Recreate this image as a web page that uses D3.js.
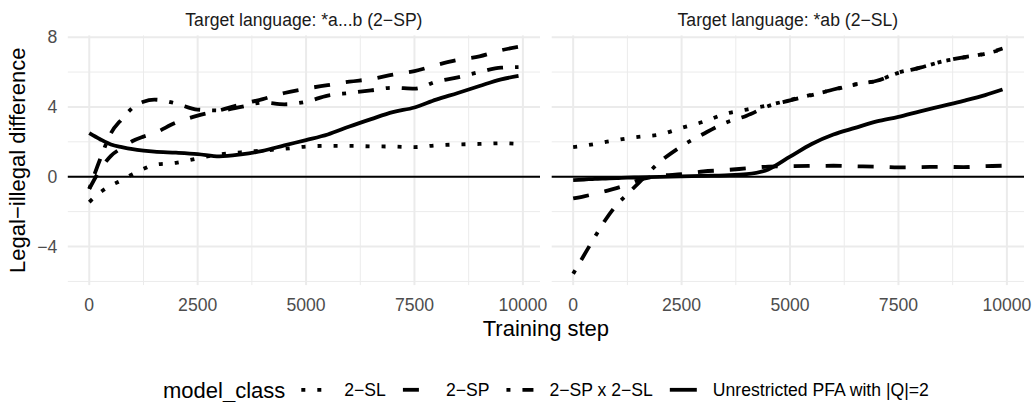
<!DOCTYPE html>
<html>
<head>
<meta charset="utf-8">
<script src="https://cdn.jsdelivr.net/npm/d3@7"></script>
<style>
body { margin: 0; background: #fff; }
svg text { font-family: "Liberation Sans", Arial, Helvetica, sans-serif; }
</style>
</head>
<body>
<svg id="chart" width="1034" height="402"></svg>
<script>
// training steps shared by every series
var steps = [0, 250, 500, 750, 1000, 1250, 1500, 2000, 2500, 3000, 3500, 4000,
	4500, 5000, 5500, 6000, 6500, 7000, 7500, 8000, 8500, 9000, 9500, 9900];

var panel_titles = ['Target language: *a...b (2\u2212SP)', 'Target language: *ab (2\u2212SL)'];
var model_classes = ['2\u2212SL', '2\u2212SP', '2\u2212SP x 2\u2212SL', 'Unrestricted PFA with |Q|=2'];

// panel 1: *a...b (2-SP)
var sp_sl    = [-1.45, -0.9, -0.5, -0.2, 0.15, 0.45, 0.68, 0.8, 1.05, 1.28, 1.4, 1.5,
	1.6, 1.73, 1.77, 1.77, 1.74, 1.73, 1.7, 1.8, 1.85, 1.88, 1.92, 1.88];
var sp_sp    = [-0.7, 0.4, 1.2, 1.65, 2.05, 2.3, 2.5, 3.1, 3.5, 3.8, 4.15, 4.45,
	4.8, 5.05, 5.25, 5.45, 5.6, 5.85, 6.05, 6.4, 6.7, 6.9, 7.25, 7.45];
var sp_cross = [-0.7, 1.0, 2.5, 3.3, 3.95, 4.3, 4.42, 4.2, 3.85, 3.8, 4.0, 4.25,
	4.15, 4.3, 4.65, 4.8, 4.95, 5.1, 5.05, 5.45, 5.7, 6.0, 6.25, 6.28];
var sp_pfa   = [2.5, 2.15, 1.85, 1.7, 1.58, 1.5, 1.44, 1.38, 1.3, 1.17, 1.28, 1.48,
	1.8, 2.1, 2.42, 2.88, 3.3, 3.7, 3.97, 4.42, 4.8, 5.2, 5.58, 5.78];

// panel 2: *ab (2-SL)
var sl_sl    = [1.7, 1.78, 1.88, 2.0, 2.1, 2.2, 2.28, 2.42, 2.8, 3.15, 3.6, 3.85,
	4.1, 4.4, 4.7, 4.98, 5.3, 5.5, 5.97, 6.25, 6.6, 6.82, 7.05, 7.3];
var sl_sp    = [-1.24, -1.12, -0.98, -0.82, -0.65, -0.45, -0.2, 0.05, 0.15, 0.3, 0.38, 0.48,
	0.58, 0.6, 0.62, 0.63, 0.6, 0.58, 0.54, 0.55, 0.57, 0.55, 0.61, 0.63];
var sl_cross = [-5.56, -4.5, -3.45, -2.45, -1.62, -1.0, -0.38, 0.85, 1.75, 2.45, 3.08, 3.5,
	4.05, 4.38, 4.68, 5.0, 5.28, 5.5, 5.95, 6.25, 6.6, 6.85, 7.05, 7.35];
var sl_pfa   = [-0.19, -0.16, -0.12, -0.1, -0.08, -0.05, -0.04, -0.01, 0.02, 0.05, 0.08, 0.15,
	0.42, 1.15, 1.88, 2.42, 2.8, 3.17, 3.43, 3.75, 4.05, 4.35, 4.68, 5.0];

var x_ticks = [0, 2500, 5000, 7500, 10000];
var x_minor = [1250, 3750, 6250, 8750];
var y_ticks = [-4, 0, 4, 8];
var y_minor = [-6, -2, 2, 6];

// line types, in units of the line width (ggplot dotted, dashed, dotdash, solid)
var unit = 4;
var dashes = ['1,3', '4,4', '1,3,4,3', null].map(function (d) {
	return d ? d.split(',').map(function (v) {return v*unit;}).join(',') : null;
});

var series = [
	{panel: 0, cls: 0, values: sp_sl}, {panel: 0, cls: 1, values: sp_sp},
	{panel: 0, cls: 2, values: sp_cross}, {panel: 0, cls: 3, values: sp_pfa},
	{panel: 1, cls: 0, values: sl_sl}, {panel: 1, cls: 1, values: sl_sp},
	{panel: 1, cls: 2, values: sl_cross}, {panel: 1, cls: 3, values: sl_pfa}
];

var conf = {
	panels: [[67.8, 540], [551.7, 1024]],
	top: 35.4, bottom: 285.1,
	line_width: 3.8,
	grid: '#EBEBEB'
};

var svg = d3.select('#chart');

// x: data range + 5% each side, same for both panels
var x_ext = d3.extent(steps);
var x_pad = (x_ext[1]-x_ext[0])*0.05;
var x_scales = conf.panels.map(function (p) {
	return d3.scaleLinear().domain([x_ext[0]-x_pad, x_ext[1]+x_pad]).range(p);
});

var all_vals = d3.merge(series.map(function (s) {return s.values;}));
var y_ext = d3.extent(all_vals);
var y_pad = (y_ext[1]-y_ext[0])*0.05;
var y_scale = d3.scaleLinear().domain([y_ext[0]-y_pad, y_ext[1]+y_pad]).range([conf.bottom, conf.top]);

conf.panels.forEach(function (p, i) {
	var x = x_scales[i];
	var g = svg.append('g').attr('class', 'panel');

	// minor grid
	g.selectAll('line.xminor').data(x_minor).enter().append('line')
		.attr('x1', x).attr('x2', x).attr('y1', conf.top).attr('y2', conf.bottom)
		.attr('stroke', conf.grid).attr('stroke-width', 1);
	g.selectAll('line.yminor').data(y_minor).enter().append('line')
		.attr('x1', p[0]).attr('x2', p[1]).attr('y1', y_scale).attr('y2', y_scale)
		.attr('stroke', conf.grid).attr('stroke-width', 1);
	// major grid
	g.selectAll('line.xmajor').data(x_ticks).enter().append('line')
		.attr('x1', x).attr('x2', x).attr('y1', conf.top).attr('y2', conf.bottom)
		.attr('stroke', conf.grid).attr('stroke-width', 2);
	g.selectAll('line.ymajor').data(y_ticks).enter().append('line')
		.attr('x1', p[0]).attr('x2', p[1]).attr('y1', y_scale).attr('y2', y_scale)
		.attr('stroke', conf.grid).attr('stroke-width', 2);

	// zero line
	g.append('line')
		.attr('x1', p[0]).attr('x2', p[1]).attr('y1', y_scale(0)).attr('y2', y_scale(0))
		.attr('stroke', '#000').attr('stroke-width', 1.8);

	// strip title
	svg.append('text')
		.attr('x', (p[0]+p[1])/2).attr('y', 25.5)
		.attr('text-anchor', 'middle').attr('font-size', 17.6).attr('fill', '#1A1A1A')
		.text(panel_titles[i]);

	// x tick labels
	svg.selectAll(null).data(x_ticks).enter().append('text')
		.attr('x', x).attr('y', 310.7)
		.attr('text-anchor', 'middle').attr('font-size', 17.6).attr('fill', '#4D4D4D')
		.text(function (d) {return d;});
});

// series lines
var line = d3.line()
	.curve(d3.curveMonotoneX)
	.x(function (d) {return d[0];})
	.y(function (d) {return y_scale(d[1]);});

svg.selectAll('path.series').data(series).enter().append('path')
	.attr('class', 'series')
	.attr('d', function (s) {
		var x = x_scales[s.panel];
		return line(s.values.map(function (v, i) {return [x(steps[i]), v];}));
	})
	.attr('fill', 'none').attr('stroke', '#000')
	.attr('stroke-width', conf.line_width)
	.attr('stroke-linejoin', 'round')
	.attr('stroke-dasharray', function (s) {return dashes[s.cls];});

// y tick labels (left panel only)
svg.selectAll('text.ytick').data(y_ticks).enter().append('text')
	.attr('x', 57.3).attr('y', function (d) {return y_scale(d)+6.3;})
	.attr('text-anchor', 'end').attr('font-size', 17.6).attr('fill', '#4D4D4D')
	.text(function (d) {return d < 0 ? '\u2212'+Math.abs(d) : d;});

// axis titles
svg.append('text')
	.attr('x', (conf.panels[0][0]+conf.panels[1][1])/2).attr('y', 335.5)
	.attr('text-anchor', 'middle').attr('font-size', 22).attr('fill', '#000')
	.text('Training step');
svg.append('text')
	.attr('transform', 'translate(24.5,' + ((conf.top+conf.bottom)/2) + ') rotate(-90)')
	.attr('text-anchor', 'middle').attr('font-size', 22).attr('fill', '#000')
	.text('Legal\u2212illegal difference');

// legend, centred under the panels
var legend = svg.append('g').attr('class', 'legend');
var key_w = 27, gap_in = 16, gap_out = 17, key_y = 389.8;
var title = legend.append('text').attr('y', 397.5).attr('font-size', 22).attr('fill', '#000').text('model_class');
var labels = model_classes.map(function (c) {
	return legend.append('text').attr('y', 396).attr('font-size', 17.6).attr('fill', '#000').text(c);
});
var total = title.node().getComputedTextLength() + gap_in;
labels.forEach(function (t, i) {
	total += key_w + gap_in + t.node().getComputedTextLength() + (i < labels.length-1 ? gap_out : 0);
});
var cx = (conf.panels[0][0]+conf.panels[1][1])/2;
var pos = cx - total/2;
title.attr('x', pos);
pos += title.node().getComputedTextLength() + gap_in;
labels.forEach(function (t, i) {
	legend.append('line')
		.attr('x1', pos).attr('x2', pos+key_w).attr('y1', key_y).attr('y2', key_y)
		.attr('stroke', '#000').attr('stroke-width', conf.line_width)
		.attr('stroke-dasharray', dashes[i]);
	pos += key_w + gap_in;
	t.attr('x', pos);
	pos += t.node().getComputedTextLength() + gap_out;
});
</script>
</body>
</html>
